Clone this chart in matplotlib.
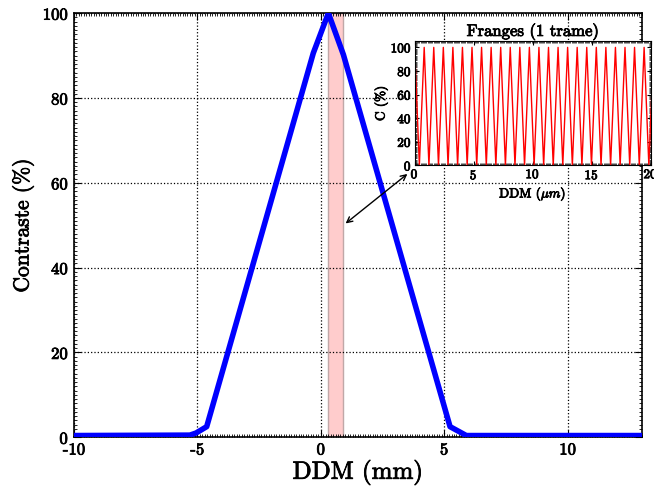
import matplotlib
matplotlib.use('Agg')
import matplotlib.pyplot as plt
import matplotlib.patheffects as pe
from matplotlib.ticker import MultipleLocator

# contraste des franges en fonction de la DDM (mm)
ddm_mm = [-10, -5.3, -5.05, -4.62, -0.30, 0.31, 0.92, 5.24, 5.9, 13]
contraste = [0.4, 0.5, 1.0, 2.5, 90.6, 100, 90.2, 2.5, 0.4, 0.4]

# zone de la trame (mm)
trame_debut = 0.31
trame_fin = 0.92

pics_um = [0.0, 0.81, 1.62, 2.43, 3.24, 4.05, 4.86, 5.67, 6.48, 7.29, 8.10, 8.91,
           9.72, 10.53, 11.34, 12.15, 12.96, 13.77, 14.58, 15.39, 16.20, 17.01,
           17.82, 18.63, 19.44, 20.25]
creux_um = [0.40, 1.21, 2.02, 2.83, 3.64, 4.45, 5.26, 6.07, 6.88, 7.69, 8.50,
            9.31, 10.12, 10.93, 11.74, 12.55, 13.36, 14.17, 14.98, 15.79, 16.60,
            17.41, 18.22, 19.03, 19.84]

franges_x = []
franges_c = []
for i in range(len(pics_um)):
    franges_x.append(pics_um[i])
    franges_c.append(100)
    if i < len(creux_um):
        franges_x.append(creux_um[i])
        franges_c.append(0)

plt.rcParams['font.family'] = ['cmr10', 'DejaVu Serif']
plt.rcParams['mathtext.fontset'] = 'cm'
plt.rcParams['axes.unicode_minus'] = False
plt.rcParams['axes.formatter.use_mathtext'] = True

gras = [pe.withStroke(linewidth=0.6, foreground='k')]

fig = plt.figure(figsize=(6.54, 4.88), dpi=100)
ax = fig.add_axes([0.113, 0.104, 0.868, 0.869])

ax.axvspan(trame_debut, trame_fin, facecolor='#ffcccc', edgecolor='#c0a8a8', lw=1, zorder=1)
ax.plot(ddm_mm, contraste, color='blue', lw=4, zorder=3)

ax.set_xlim(-10, 13)
ax.set_ylim(0, 100)
ax.set_xticks([-10, -5, 0, 5, 10])
ax.set_xticklabels(['-10', '-5', '0', '5', '10'])
ax.set_yticks([0, 20, 40, 60, 80, 100])
ax.xaxis.set_minor_locator(MultipleLocator(0.1))
ax.yaxis.set_minor_locator(MultipleLocator(1))
ax.tick_params(which='both', direction='in', top=True, right=True, labelsize=12)
ax.tick_params(which='major', length=5)
ax.tick_params(which='minor', length=2, width=0.6)
ax.grid(True, which='major', color='k', linestyle=':', lw=0.9)
ax.set_xlabel('DDM (mm)', fontsize=18, labelpad=2)
ax.set_ylabel('Contraste (%)', fontsize=15.5, labelpad=6)
for s in ax.spines.values():
    s.set_linewidth(1.2)

ax.annotate('', xy=(0.92, 50), xytext=(3.6, 62.5),
            arrowprops=dict(arrowstyle='<->', color='k', lw=1), zorder=5)

# encart
ins = fig.add_axes([0.634, 0.661, 0.361, 0.254])
ins.plot(franges_x, franges_c, color='red', lw=1)
ins.set_xlim(0, 20)
ins.set_ylim(0, 105)
ins.set_xticks([0, 5, 10, 15, 20])
ins.set_yticks([0, 20, 40, 60, 80, 100])
ins.xaxis.set_minor_locator(MultipleLocator(0.1))
ins.yaxis.set_minor_locator(MultipleLocator(1))
ins.tick_params(which='both', direction='in', top=True, right=True, labelsize=9.5, pad=2)
ins.tick_params(which='major', length=3)
ins.tick_params(which='minor', length=1.5, width=0.5)
ins.set_title('Franges (1 trame)', fontsize=12, pad=4)
ins.set_xlabel(r'DDM ($\mu m$)', fontsize=9.5, labelpad=2)
ins.set_ylabel('C (%)', fontsize=9.5, labelpad=2)

for a in (ax, ins):
    for t in a.get_xticklabels() + a.get_yticklabels():
        t.set_path_effects(gras)
    a.xaxis.label.set_path_effects(gras)
    a.yaxis.label.set_path_effects(gras)
ins.title.set_path_effects(gras)

fig.savefig('out.png', dpi=100)
